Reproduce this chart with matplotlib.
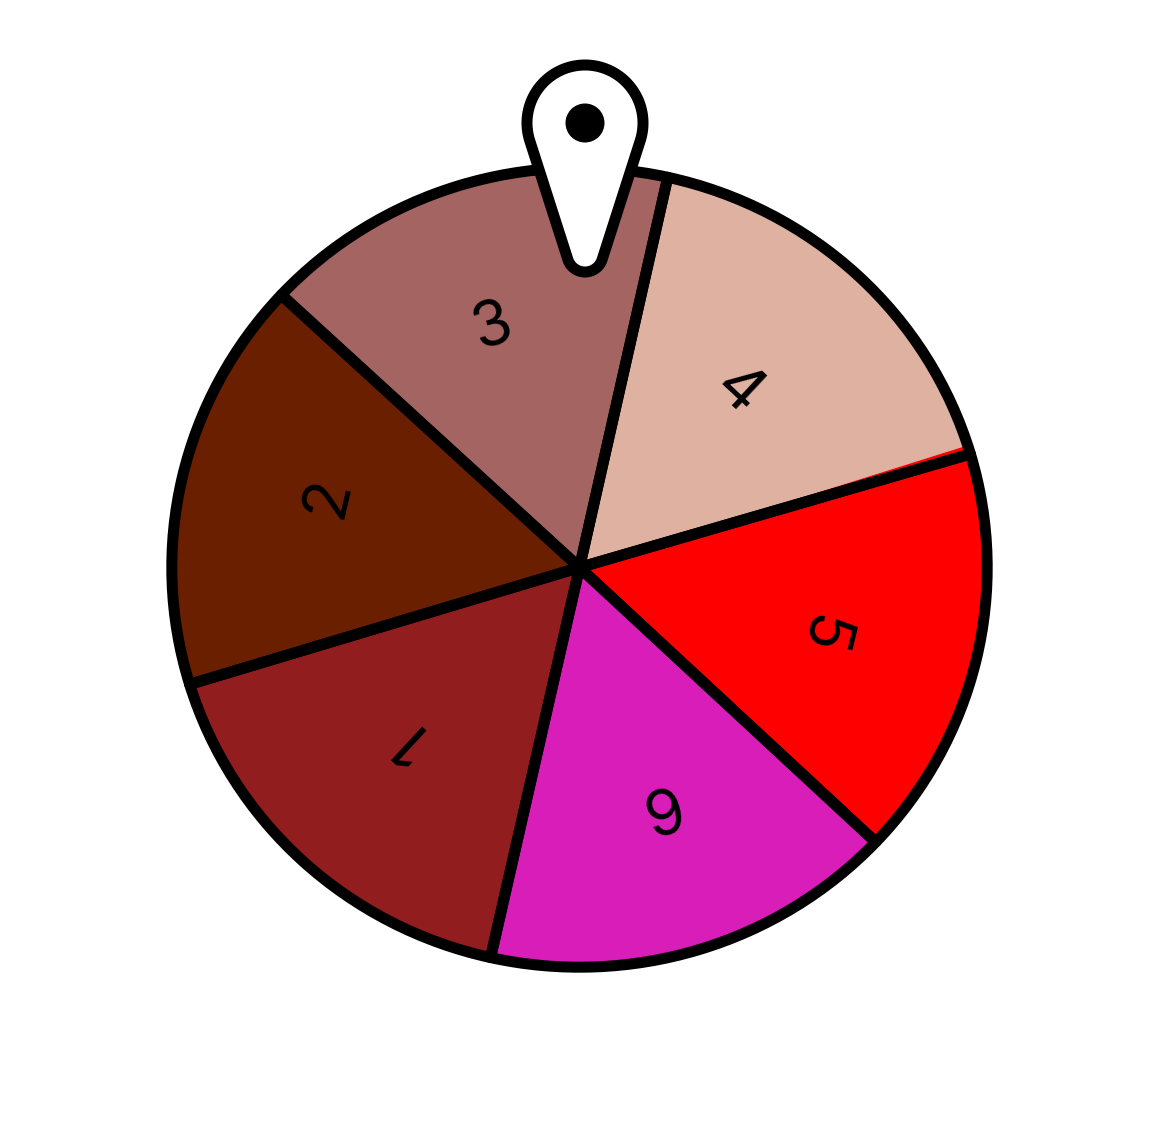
import numpy as np
import matplotlib
matplotlib.use("Agg")
import matplotlib.pyplot as plt
from matplotlib.patches import Polygon, Ellipse

labels = ["1", "2", "3", "4", "5", "6"]
values = [60.4, 60.0, 59.5, 61.0, 59.9, 59.2]
fill_spans = [60.4, 60.0, 59.5, 59.7, 61.2, 59.2]
colors = ["#921d1f", "#6a1f00", "#a36462", "#deb1a0", "#ff0000", "#d81db8"]
label_x = [408, 322, 491, 742, 826, 658]
label_y = [745, 496, 322, 387, 636, 810]

W, H = 1150, 1135
CX, CY, RX, RY = 579.5, 567.5, 407.7, 399.7
LW = 11 * 72 / 100

fig = plt.figure(figsize=(W / 100, H / 100), dpi=100, facecolor="white")
ax = fig.add_axes([0, 0, 1, 1])

ax.pie(fill_spans, colors=colors, startangle=257.4, counterclock=False, radius=1,
       wedgeprops=dict(linewidth=0))
wedges, _ = ax.pie(values, startangle=257.4, counterclock=False, radius=1,
                   wedgeprops=dict(facecolor="none", edgecolor="black", linewidth=LW,
                                   joinstyle="round"))
ax.set_aspect("auto")
ax.set_xlim(-CX / RX, (W - CX) / RX)
ax.set_ylim(-(H - CY) / RY, CY / RY)
ax.axis("off")

# pointer and labels drawn in pixel coordinates on an overlay
ov = fig.add_axes([0, 0, 1, 1], facecolor="none")
ov.set_xlim(0, W)
ov.set_ylim(H, 0)
ov.axis("off")

for w, lab, lx, ly in zip(wedges, labels, label_x, label_y):
    mid = (w.theta1 + w.theta2) / 2
    ov.text(lx, ly, lab, rotation=mid - 90, rotation_mode="anchor", ha="center",
            va="center_baseline", fontsize=45, family="Inter", color="black")

px, top_y, r1 = 585, 123, 58
tip_y, r2 = 254, 18
alpha = np.arcsin((r1 - r2) / (tip_y - top_y))
t1 = np.linspace(np.pi - alpha, 2 * np.pi + alpha, 120)
t2 = np.linspace(alpha, np.pi - alpha, 40)
xs = np.r_[px + r1 * np.cos(t1), px + r2 * np.cos(t2)]
ys = np.r_[top_y + r1 * np.sin(t1), tip_y + r2 * np.sin(t2)]
ov.add_patch(Polygon(np.c_[xs, ys], closed=True, facecolor="white", edgecolor="black",
                     linewidth=LW, joinstyle="round"))
ov.add_patch(Ellipse((px, top_y), 39, 39, facecolor="black", edgecolor="none"))

fig.savefig("out.png", dpi=100)
